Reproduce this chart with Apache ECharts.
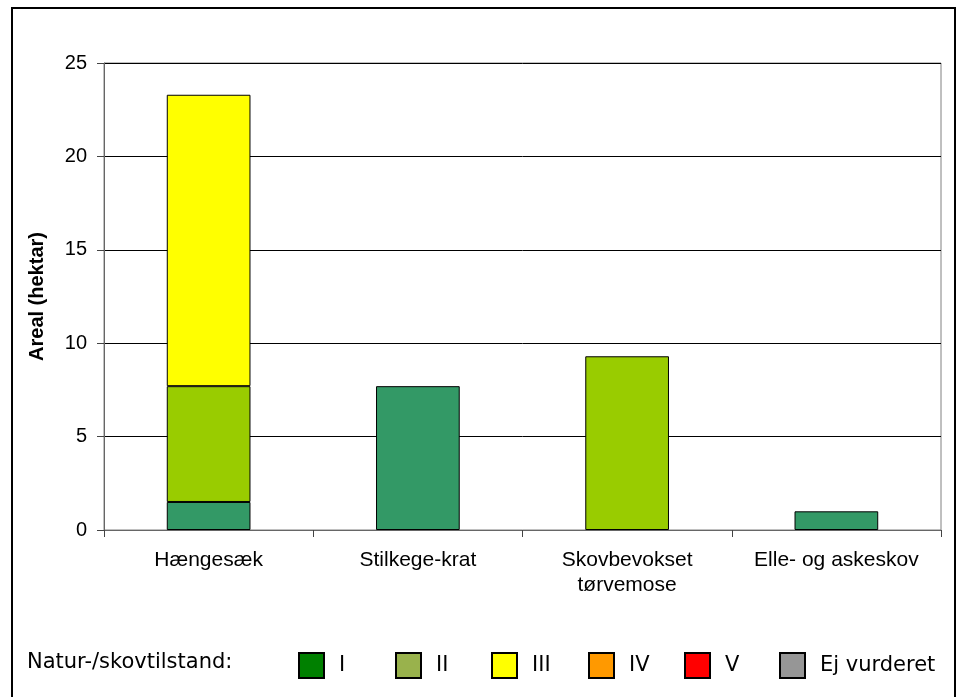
<!DOCTYPE html>
<html>
<head>
<meta charset="utf-8">
<script src="https://cdn.jsdelivr.net/npm/echarts@6/dist/echarts.min.js"></script>
<style>html,body{margin:0;padding:0;background:#fff}#c{width:957px;height:697px}</style>
</head>
<body>
<div id="c"></div>
<script>
var categories = ['Hængesæk', 'Stilkege-krat', 'Skovbevokset\ntørvemose', 'Elle- og askeskov'];
var seriesNames = ['I', 'II', 'III', 'IV', 'V', 'Ej vurderet'];
var valuesI = [1.5, 7.7, null, 1.0];
var valuesII = [6.2, null, 9.3, null];
var valuesIII = [15.6, null, null, null];
var valuesIV = [null, null, null, null];
var valuesV = [null, null, null, null];
var valuesEj = [null, null, null, null];
var yTicks = [0, 5, 10, 15, 20, 25];

var barColors = ['#339966', '#99CC00', '#FFFF00', '#FF9900', '#FF0000', '#969696'];
var legendColors = ['#008000', '#99B24C', '#FFFF00', '#FF9900', '#FF0000', '#969696'];
var legendLefts = [298, 395, 491, 588, 684, 779];
var allValues = [valuesI, valuesII, valuesIII, valuesIV, valuesV, valuesEj];

var chart = echarts.init(document.getElementById('c'));
var series = seriesNames.map(function (n, i) {
  return {
    name: n, type: 'bar', stack: 'total', barWidth: '40%',
    data: allValues[i],
    itemStyle: { color: barColors[i], borderColor: '#000', borderWidth: 1 },
    emphasis: { disabled: true }
  };
});
var legends = seriesNames.map(function (n, i) {
  return {
    left: legendLefts[i], top: 652, orient: 'horizontal', padding: 0,
    itemWidth: 25, itemHeight: 25, icon: 'rect',
    selectedMode: false,
    data: [{ name: n, itemStyle: { color: legendColors[i], borderColor: '#000', borderWidth: 2 } }],
    textStyle: { fontFamily: 'DejaVu Sans', fontSize: 21, color: '#000', padding: [0, 0, 0, 10] }
  };
});
chart.setOption({
  animation: false,
  backgroundColor: '#fff',
  title: {
    text: 'Natur-/skovtilstand:', left: 27, top: 652, padding: 0,
    textStyle: { fontFamily: 'DejaVu Sans', fontSize: 21, fontWeight: 'normal', color: '#000' }
  },
  legend: legends,
  grid: { left: 104, right: 16, top: 63, bottom: 167, show: true, borderColor: '#808080', borderWidth: 1, backgroundColor: '#fff' },
  graphic: [{
    type: 'rect', z: -1, silent: true,
    shape: { x: 12, y: 8, width: 943, height: 720 },
    style: { fill: 'none', stroke: '#000', lineWidth: 2 }
  }],
  xAxis: {
    type: 'category', data: categories,
    axisLine: { lineStyle: { color: '#666', width: 1 } },
    axisTick: { show: true, length: 7, alignWithLabel: false, lineStyle: { color: '#444' } },
    axisLabel: { fontFamily: 'Liberation Sans', fontSize: 21, color: '#000', margin: 18, lineHeight: 25, interval: 0 }
  },
  yAxis: {
    type: 'value', min: 0, max: 25, interval: 5,
    name: 'Areal (hektar)', nameLocation: 'middle', nameGap: 57, nameRotate: 90,
    nameTextStyle: { fontFamily: 'Liberation Sans', fontSize: 20, fontWeight: 'bold', color: '#000' },
    axisLine: { show: true, lineStyle: { color: '#666', width: 1 } },
    axisTick: { show: true, length: 7, lineStyle: { color: '#444' } },
    axisLabel: { fontFamily: 'Liberation Sans', fontSize: 20, color: '#000', margin: 17,
      formatter: function (v) { return yTicks.indexOf(v) >= 0 ? String(v) : ''; } },
    splitLine: { show: true, lineStyle: { color: '#000', width: 1 } }
  },
  series: series
});
</script>
</body>
</html>
